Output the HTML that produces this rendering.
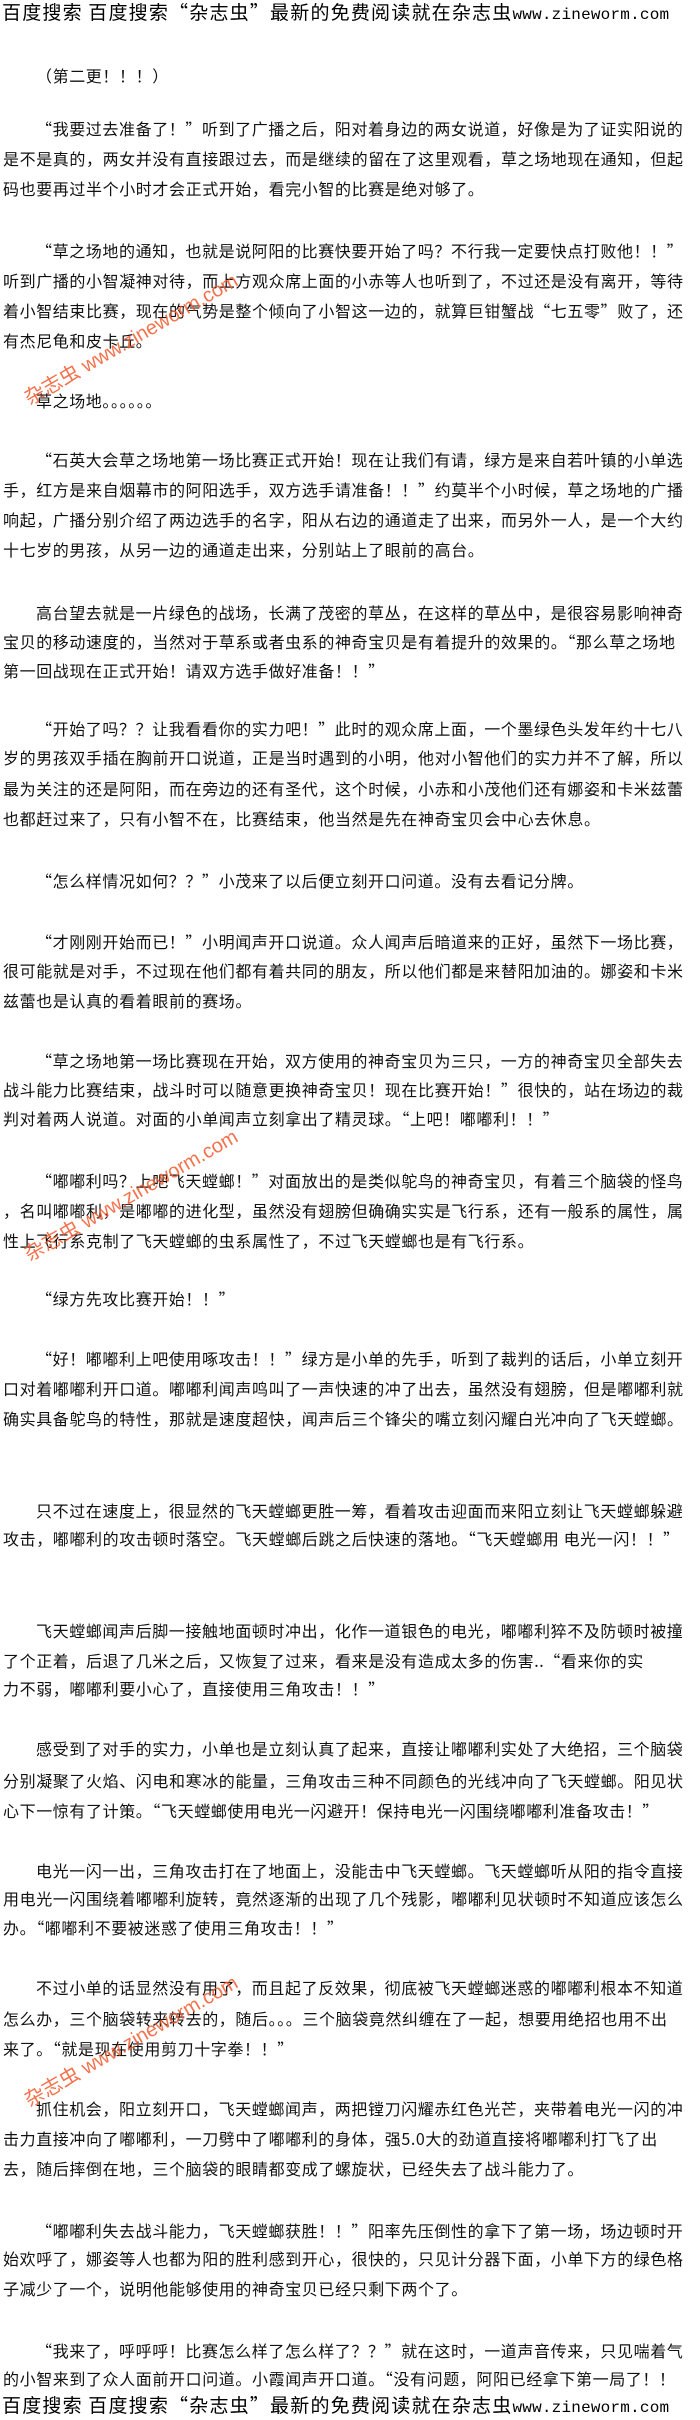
<!DOCTYPE html>
<html><head><meta charset="utf-8">
<style>
html,body{margin:0;padding:0;background:#fff;}
body{width:700px;height:2420px;position:relative;overflow:hidden;}
.l{position:absolute;left:3px;white-space:nowrap;font-family:"Noto Sans CJK SC","WenQuanYi Zen Hei",sans-serif;font-size:16px;letter-spacing:0.6px;line-height:18px;color:#111;}
.i{left:36px;}
.h{position:absolute;left:2px;white-space:nowrap;font-family:"Noto Sans CJK SC",sans-serif;font-size:19px;letter-spacing:1.2px;line-height:22px;color:#000;}
.h span{font-family:"Liberation Mono",monospace;font-size:16px;letter-spacing:0.2px;}
.wm{position:absolute;left:32px;white-space:nowrap;font-family:"Liberation Sans","Noto Sans CJK SC",sans-serif;font-size:20px;color:#f25a2e;opacity:0.85;transform-origin:0 100%;transform:rotate(-30deg);line-height:22px;}
</style></head><body>
<div class="h" style="top:1px">百度搜索 百度搜索“杂志虫”最新的免费阅读就在杂志虫<span>www.zineworm.com</span></div>

<div class="l i" style="top:66px">（第二更！！！）</div>
<div class="l i" style="top:119px">“我要过去准备了！”听到了广播之后，阳对着身边的两女说道，好像是为了证实阳说的</div>
<div class="l" style="top:149px">是不是真的，两女并没有直接跟过去，而是继续的留在了这里观看，草之场地现在通知，但起</div>
<div class="l" style="top:179px">码也要再过半个小时才会正式开始，看完小智的比赛是绝对够了。</div>
<div class="l i" style="top:241px">“草之场地的通知，也就是说阿阳的比赛快要开始了吗？不行我一定要快点打败他！！”</div>
<div class="l" style="top:271px">听到广播的小智凝神对待，而上方观众席上面的小赤等人也听到了，不过还是没有离开，等待</div>
<div class="l" style="top:301px">着小智结束比赛，现在的气势是整个倾向了小智这一边的，就算巨钳蟹战“七五零”败了，还</div>
<div class="l" style="top:331px">有杰尼龟和皮卡丘。</div>
<div class="l i" style="top:391px">草之场地。。。。。。</div>
<div class="l i" style="top:450px">“石英大会草之场地第一场比赛正式开始！现在让我们有请，绿方是来自若叶镇的小单选</div>
<div class="l" style="top:480px">手，红方是来自烟幕市的阿阳选手，双方选手请准备！！”约莫半个小时候，草之场地的广播</div>
<div class="l" style="top:510px">响起，广播分别介绍了两边选手的名字，阳从右边的通道走了出来，而另外一人，是一个大约</div>
<div class="l" style="top:540px">十七岁的男孩，从另一边的通道走出来，分别站上了眼前的高台。</div>
<div class="l i" style="top:603px">高台望去就是一片绿色的战场，长满了茂密的草丛，在这样的草丛中，是很容易影响神奇</div>
<div class="l" style="top:632px">宝贝的移动速度的，当然对于草系或者虫系的神奇宝贝是有着提升的效果的。“那么草之场地</div>
<div class="l" style="top:661px">第一回战现在正式开始！请双方选手做好准备！！”</div>
<div class="l i" style="top:719px">“开始了吗？？让我看看你的实力吧！”此时的观众席上面，一个墨绿色头发年约十七八</div>
<div class="l" style="top:748px">岁的男孩双手插在胸前开口说道，正是当时遇到的小明，他对小智他们的实力并不了解，所以</div>
<div class="l" style="top:779px">最为关注的还是阿阳，而在旁边的还有圣代，这个时候，小赤和小茂他们还有娜姿和卡米兹蕾</div>
<div class="l" style="top:809px">也都赶过来了，只有小智不在，比赛结束，他当然是先在神奇宝贝会中心去休息。</div>
<div class="l i" style="top:871px">“怎么样情况如何？？”小茂来了以后便立刻开口问道。没有去看记分牌。</div>
<div class="l i" style="top:932px">“才刚刚开始而已！”小明闻声开口说道。众人闻声后暗道来的正好，虽然下一场比赛，</div>
<div class="l" style="top:961px">很可能就是对手，不过现在他们都有着共同的朋友，所以他们都是来替阳加油的。娜姿和卡米</div>
<div class="l" style="top:991px">兹蕾也是认真的看着眼前的赛场。</div>
<div class="l i" style="top:1051px">“草之场地第一场比赛现在开始，双方使用的神奇宝贝为三只，一方的神奇宝贝全部失去</div>
<div class="l" style="top:1080px">战斗能力比赛结束，战斗时可以随意更换神奇宝贝！现在比赛开始！”很快的，站在场边的裁</div>
<div class="l" style="top:1109px">判对着两人说道。对面的小单闻声立刻拿出了精灵球。“上吧！嘟嘟利！！”</div>
<div class="l i" style="top:1171px">“嘟嘟利吗？上吧飞天螳螂！”对面放出的是类似鸵鸟的神奇宝贝，有着三个脑袋的怪鸟</div>
<div class="l" style="top:1201px">，名叫嘟嘟利，是嘟嘟的进化型，虽然没有翅膀但确确实实是飞行系，还有一般系的属性，属</div>
<div class="l" style="top:1231px">性上飞行系克制了飞天螳螂的虫系属性了，不过飞天螳螂也是有飞行系。</div>
<div class="l i" style="top:1289px">“绿方先攻比赛开始！！”</div>
<div class="l i" style="top:1349px">“好！嘟嘟利上吧使用啄攻击！！”绿方是小单的先手，听到了裁判的话后，小单立刻开</div>
<div class="l" style="top:1379px">口对着嘟嘟利开口道。嘟嘟利闻声鸣叫了一声快速的冲了出去，虽然没有翅膀，但是嘟嘟利就</div>
<div class="l" style="top:1409px">确实具备鸵鸟的特性，那就是速度超快，闻声后三个锋尖的嘴立刻闪耀白光冲向了飞天螳螂。</div>
<div class="l i" style="top:1501px">只不过在速度上，很显然的飞天螳螂更胜一筹，看着攻击迎面而来阳立刻让飞天螳螂躲避</div>
<div class="l" style="top:1529px">攻击，嘟嘟利的攻击顿时落空。飞天螳螂后跳之后快速的落地。“飞天螳螂用 电光一闪！！”</div>
<div class="l i" style="top:1621px">飞天螳螂闻声后脚一接触地面顿时冲出，化作一道银色的电光，嘟嘟利猝不及防顿时被撞</div>
<div class="l" style="top:1651px">了个正着，后退了几米之后，又恢复了过来，看来是没有造成太多的伤害..“看来你的实</div>
<div class="l" style="top:1679px">力不弱，嘟嘟利要小心了，直接使用三角攻击！！”</div>
<div class="l i" style="top:1739px">感受到了对手的实力，小单也是立刻认真了起来，直接让嘟嘟利实处了大绝招，三个脑袋</div>
<div class="l" style="top:1771px">分别凝聚了火焰、闪电和寒冰的能量，三角攻击三种不同颜色的光线冲向了飞天螳螂。阳见状</div>
<div class="l" style="top:1801px">心下一惊有了计策。“飞天螳螂使用电光一闪避开！保持电光一闪围绕嘟嘟利准备攻击！”</div>
<div class="l i" style="top:1861px">电光一闪一出，三角攻击打在了地面上，没能击中飞天螳螂。飞天螳螂听从阳的指令直接</div>
<div class="l" style="top:1889px">用电光一闪围绕着嘟嘟利旋转，竟然逐渐的出现了几个残影，嘟嘟利见状顿时不知道应该怎么</div>
<div class="l" style="top:1918px">办。“嘟嘟利不要被迷惑了使用三角攻击！！”</div>
<div class="l i" style="top:1978px">不过小单的话显然没有用了，而且起了反效果，彻底被飞天螳螂迷惑的嘟嘟利根本不知道</div>
<div class="l" style="top:2009px">怎么办，三个脑袋转来转去的，随后。。。三个脑袋竟然纠缠在了一起，想要用绝招也用不出</div>
<div class="l" style="top:2039px">来了。“就是现在使用剪刀十字拳！！”</div>
<div class="l i" style="top:2099px">抓住机会，阳立刻开口，飞天螳螂闻声，两把镗刀闪耀赤红色光芒，夹带着电光一闪的冲</div>
<div class="l" style="top:2129px">击力直接冲向了嘟嘟利，一刀劈中了嘟嘟利的身体，强5.0大的劲道直接将嘟嘟利打飞了出</div>
<div class="l" style="top:2159px">去，随后摔倒在地，三个脑袋的眼睛都变成了螺旋状，已经失去了战斗能力了。</div>
<div class="l i" style="top:2221px">“嘟嘟利失去战斗能力，飞天螳螂获胜！！”阳率先压倒性的拿下了第一场，场边顿时开</div>
<div class="l" style="top:2249px">始欢呼了，娜姿等人也都为阳的胜利感到开心，很快的，只见计分器下面，小单下方的绿色格</div>
<div class="l" style="top:2279px">子减少了一个，说明他能够使用的神奇宝贝已经只剩下两个了。</div>
<div class="l i" style="top:2341px">“我来了，呼呼呼！比赛怎么样了怎么样了？？”就在这时，一道声音传来，只见喘着气</div>
<div class="l" style="top:2369px">的小智来到了众人面前开口问道。小霞闻声开口道。“没有问题，阿阳已经拿下第一局了！！</div>
<div class="h" style="top:2394px">百度搜索 百度搜索“杂志虫”最新的免费阅读就在杂志虫<span>www.zineworm.com</span></div>

<div class="wm" style="top:388px">杂志虫 www.zineworm.com</div>
<div class="wm" style="top:1244px">杂志虫 www.zineworm.com</div>
<div class="wm" style="top:2090px">杂志虫 www.zineworm.com</div>
</body></html>
